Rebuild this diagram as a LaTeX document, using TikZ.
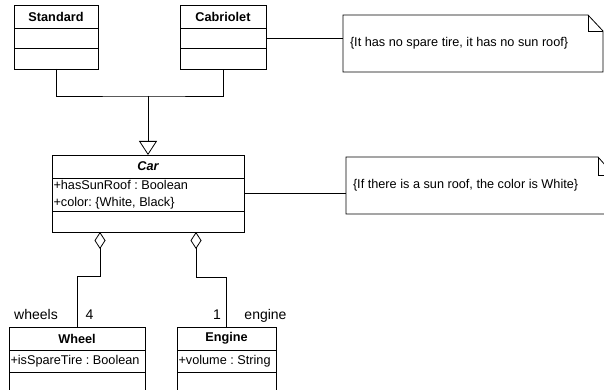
\documentclass[tikz,border=0pt]{standalone}
\usepackage{fontspec}
\setmainfont{Liberation Sans}
\usetikzlibrary{arrows.meta}
\frenchspacing

\tikzset{
	cls/.style={draw, rectangle, line width=0.8pt, inner sep=0pt, outer sep=0pt,
		font=\fontsize{12.7}{16.5}\selectfont},
	classtitle/.style={cls, font=\fontsize{12.7}{16.5}\selectfont\bfseries},
	classattr/.style={cls, align=flush left, inner xsep=1.5pt},
	notebox/.style={inner xsep=7pt, inner ysep=0pt, outer sep=0pt, align=flush left,
		font=\fontsize{12.7}{16.5}\selectfont},
	noteline/.style={line width=0.8pt},
	role/.style={inner sep=0pt, font=\fontsize{14}{16}\selectfont},
	gen/.style={line width=0.8pt, -{Triangle[open, length=14pt, width=18pt]}},
	aggr/.style={line width=0.8pt, {Diamond[open, length=17pt, width=11pt]}-},
	conn/.style={line width=0.8pt},
}

\begin{document}
\begin{tikzpicture}[x=1pt, y=-1pt]
	\clip (0,0) rectangle (604,390);
	\fill[white] (0,0) rectangle (604,390);
	
	%Class Standard
	\node[classtitle, minimum width=84pt, minimum height=23pt, anchor=north west] (std) at (14,5) {Standard};
	\node[cls, minimum width=84pt, minimum height=20pt, anchor=north] (stdA) at (std.south) {};
	\node[cls, minimum width=84pt, minimum height=21pt, anchor=north] (stdM) at (stdA.south) {};
	
	%Class Cabriolet
	\node[classtitle, minimum width=86pt, minimum height=23pt, anchor=north west] (cab) at (180,5) {Cabriolet};
	\node[cls, minimum width=86pt, minimum height=20pt, anchor=north] (cabA) at (cab.south) {};
	\node[cls, minimum width=86pt, minimum height=21pt, anchor=north] (cabM) at (cabA.south) {};
	
	%Class Car
	\node[classtitle, minimum width=192pt, minimum height=23pt, anchor=north west] (car) at (52,155) {\itshape Car};
	\node[classattr, text width=189pt, minimum height=33pt, anchor=north] (carA) at (car.south)
		{+hasSunRoof : Boolean\\+color: \{White, Black\}};
	\node[cls, minimum width=192pt, minimum height=21pt, anchor=north] (carM) at (carA.south) {};
	
	%Class Wheel
	\node[classtitle, minimum width=136pt, minimum height=23pt, anchor=north west] (wheel) at (9,327) {Wheel};
	\node[classattr, text width=133pt, minimum height=22pt, anchor=north] (wheelA) at (wheel.south) {+isSpareTire : Boolean};
	\node[cls, minimum width=136pt, minimum height=22pt, anchor=north] (wheelM) at (wheelA.south) {};
	
	%Class Engine
	\node[classtitle, minimum width=99pt, minimum height=23pt, anchor=north west] (eng) at (177,327) {Engine};
	\node[classattr, text width=96pt, minimum height=22pt, anchor=north] (engA) at (eng.south) {+volume : String};
	\node[cls, minimum width=99pt, minimum height=22pt, anchor=north] (engM) at (engA.south) {};
	
	%Notes
	\node[notebox, text width=246pt, minimum height=57pt, anchor=north west] (note1) at (343,15)
		{\{It has no spare tire, it has no sun roof\}};
	\draw[noteline] (note1.south west) -- (note1.north west) -- ([xshift=-15pt]note1.north east)
		-- ([yshift=-16pt]note1.north east) -- (note1.south east) -- cycle;
	\draw[noteline] ([xshift=-15pt]note1.north east) |- ([yshift=-16pt]note1.north east);
	
	\node[notebox, text width=254pt, minimum height=57pt, anchor=north west] (note2) at (346,157)
		{\{If there is a sun roof, the color is White\}};
	\draw[noteline] (note2.south west) -- (note2.north west) -- ([xshift=-16pt]note2.north east)
		-- ([yshift=-18pt]note2.north east) -- (note2.south east) -- cycle;
	\draw[noteline] ([xshift=-16pt]note2.north east) |- ([yshift=-18pt]note2.north east);
	
	%Generalization
	\coordinate (genJ) at (148,96);
	\draw[conn] (stdM.south) |- (genJ) -| (cabM.south);
	\draw[gen] (genJ) -- (car.north);
	
	%Note links
	\draw[conn] (cabA.east) -- (cabA.east -| note1.west);
	\draw[conn] ([yshift=1.5pt]carA.east) -- ([yshift=1.5pt]carA.east -| note2.west);
	
	%Aggregations
	\coordinate (wBend) at (100,276);
	\coordinate (eBend) at (196,277);
	\draw[aggr] (carM.south -| wBend) -- (wBend) -| (wheel.north);
	\draw[aggr] (carM.south -| eBend) -- (eBend) -| (eng.north);
	
	%Roles
	\node[role, anchor=base] (wRole) at (36,319) {wheels};
	\node[role, anchor=base] (wMult) at (89.5,319) {4};
	\node[role, anchor=base] (eMult) at (217,319) {1};
	\node[role, anchor=base] (eRole) at (265.5,319) {engine};
\end{tikzpicture}
\end{document}
